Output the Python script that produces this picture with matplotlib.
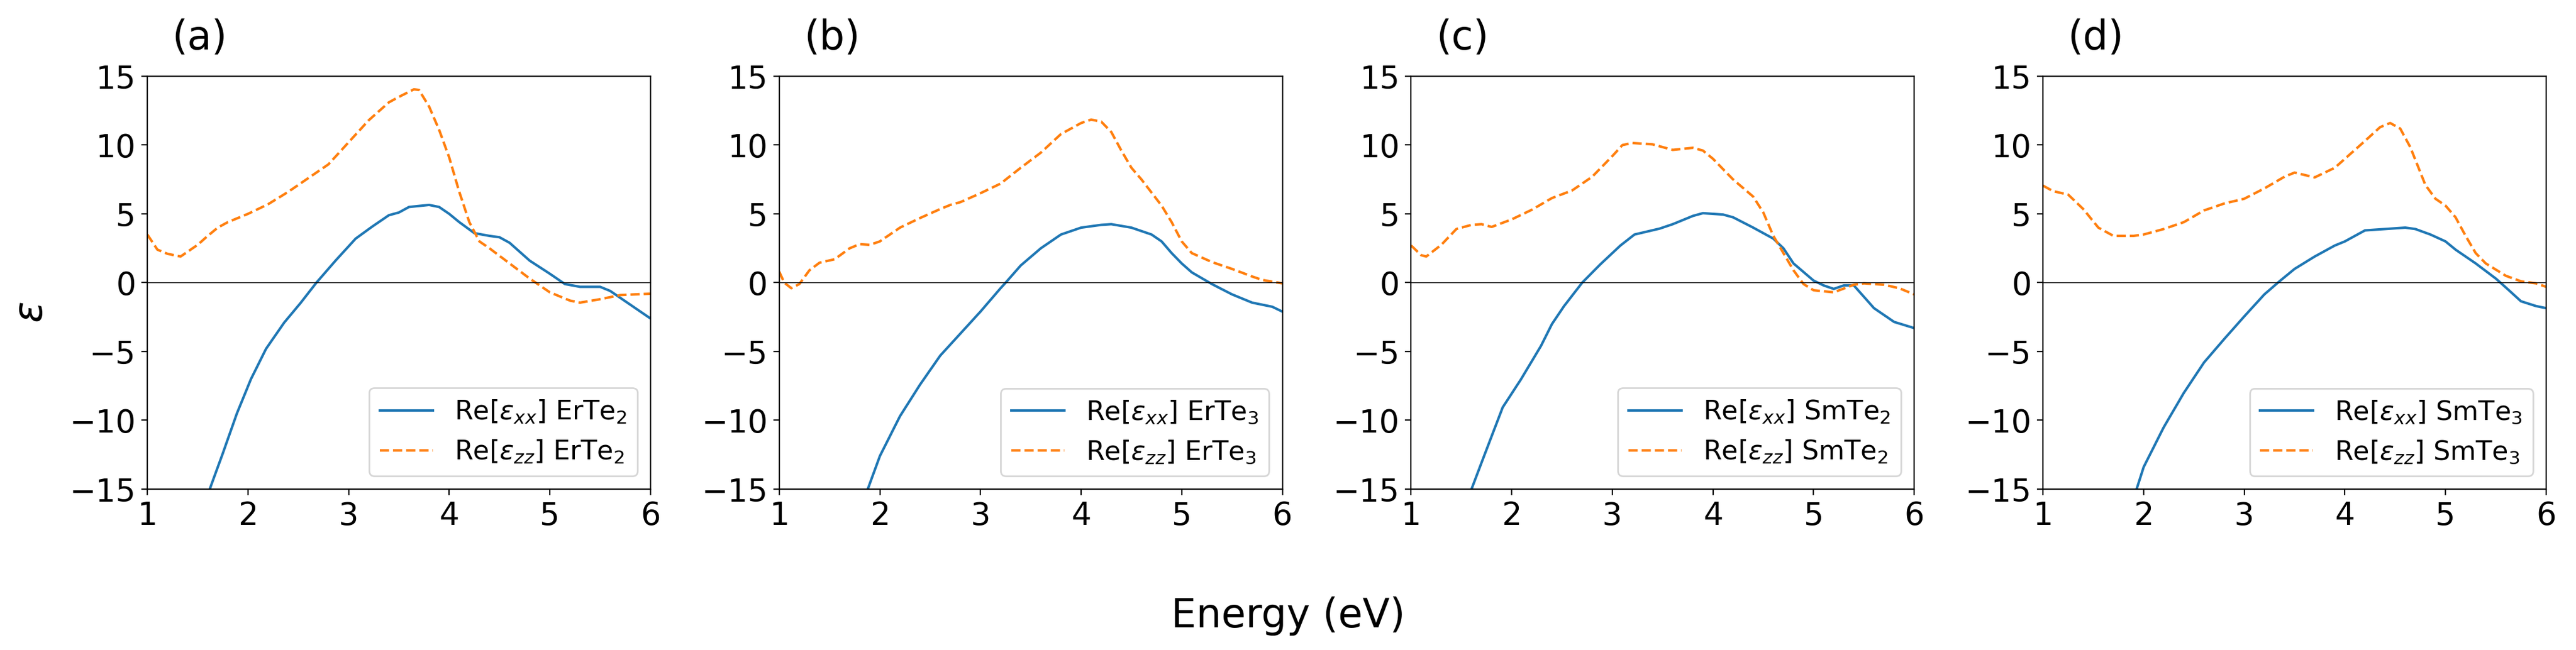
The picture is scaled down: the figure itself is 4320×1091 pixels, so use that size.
import matplotlib
matplotlib.use('Agg')
import matplotlib.pyplot as plt

# panel labels and legend compounds
panels = ['(a)', '(b)', '(c)', '(d)']
compounds = ['ErTe$_2$', 'ErTe$_3$', 'SmTe$_2$', 'SmTe$_3$']

# (a) ErTe2
a_xx_E = [1.62, 1.75, 1.89, 2.03, 2.18, 2.36, 2.52, 2.68, 2.87, 3.07, 3.23, 3.4, 3.5, 3.6, 3.8, 3.9, 4.0,
          4.1, 4.25, 4.4, 4.5, 4.6, 4.8, 5.0, 5.15, 5.3, 5.5, 5.6, 5.8, 6.0]
a_xx = [-15, -12.4, -9.5, -7.0, -4.8, -2.9, -1.5, 0.0, 1.6, 3.2, 4.05, 4.9, 5.1, 5.5, 5.65, 5.5, 5.0,
        4.4, 3.6, 3.4, 3.3, 2.9, 1.6, 0.65, -0.1, -0.3, -0.3, -0.6, -1.6, -2.6]
a_zz_E = [1.0, 1.1, 1.2, 1.33, 1.5, 1.6, 1.7, 1.8, 2.0, 2.2, 2.4, 2.6, 2.8, 3.0, 3.2, 3.4, 3.5,
          3.65, 3.7, 3.8, 3.9, 4.0, 4.1, 4.2, 4.3, 4.4, 4.6, 4.8, 5.0, 5.2, 5.3, 5.5, 5.7, 6.0]
a_zz = [3.5, 2.4, 2.1, 1.9, 2.75, 3.4, 4.0, 4.4, 5.0, 5.7, 6.6, 7.6, 8.6, 10.2, 11.8, 13.1, 13.5,
        14.05, 14.0, 12.8, 11.1, 9.1, 6.6, 4.4, 3.0, 2.5, 1.4, 0.3, -0.7, -1.3, -1.45, -1.2, -0.9, -0.8]

# (b) ErTe3
b_xx_E = [1.88, 2.0, 2.2, 2.4, 2.6, 2.8, 3.0, 3.2, 3.25, 3.4, 3.6, 3.8, 4.0, 4.2, 4.3, 4.5,
          4.7, 4.8, 4.9, 5.0, 5.1, 5.3, 5.5, 5.7, 5.9, 6.0]
b_xx = [-15, -12.6, -9.7, -7.4, -5.3, -3.7, -2.1, -0.4, 0.0, 1.25, 2.5, 3.5, 4.0, 4.2, 4.25, 4.0,
        3.5, 3.0, 2.15, 1.4, 0.75, -0.1, -0.85, -1.45, -1.75, -2.1]
b_zz_E = [1.0, 1.05, 1.12, 1.2, 1.3, 1.4, 1.55, 1.7, 1.8, 1.9, 2.0, 2.2, 2.4, 2.6, 2.7, 2.8,
          3.0, 3.2, 3.4, 3.6, 3.8, 4.0, 4.1, 4.2, 4.3, 4.4, 4.5, 4.6, 4.8, 4.9, 5.0, 5.1,
          5.3, 5.5, 5.7, 5.8, 6.0]
b_zz = [0.8, 0.0, -0.4, -0.1, 0.9, 1.45, 1.7, 2.5, 2.8, 2.75, 3.0, 4.0, 4.7, 5.35, 5.65, 5.85,
        6.5, 7.2, 8.35, 9.45, 10.8, 11.6, 11.85, 11.7, 10.95, 9.6, 8.35, 7.5, 5.6, 4.4, 3.0, 2.15,
        1.5, 1.0, 0.45, 0.2, -0.05]

# (c) SmTe2
c_xx_E = [1.6, 1.735, 1.91, 2.09, 2.29, 2.4, 2.52, 2.7, 2.88, 3.08, 3.22, 3.47, 3.6, 3.8, 3.9, 4.1, 4.2,
          4.4, 4.6, 4.7, 4.8, 5.0, 5.1, 5.2, 5.3, 5.4, 5.6, 5.8, 6.0]
c_xx = [-15, -12.4, -9.06, -7.04, -4.6, -3.0, -1.7, 0.0, 1.33, 2.7, 3.5, 3.93, 4.25, 4.85, 5.05, 4.95, 4.75,
        4.0, 3.2, 2.5, 1.4, 0.15, -0.2, -0.45, -0.2, -0.2, -1.85, -2.85, -3.3]
c_zz_E = [1.0, 1.1, 1.15, 1.3, 1.45, 1.6, 1.7, 1.8, 2.0, 2.2, 2.4, 2.6, 2.8, 3.0, 3.1, 3.2,
          3.4, 3.6, 3.8, 3.9, 4.0, 4.2, 4.4, 4.5, 4.6, 4.7, 4.8, 4.9, 5.0, 5.2, 5.4, 5.5,
          5.7, 5.85, 6.0]
c_zz = [2.7, 2.0, 1.9, 2.75, 3.9, 4.2, 4.25, 4.05, 4.6, 5.3, 6.15, 6.7, 7.7, 9.2, 10.0, 10.15,
        10.05, 9.65, 9.8, 9.6, 9.0, 7.5, 6.25, 5.1, 3.4, 2.15, 0.9, -0.1, -0.55, -0.7, -0.15, -0.05,
        -0.15, -0.4, -0.85]

# (d) SmTe3
d_xx_E = [1.93, 2.0, 2.2, 2.4, 2.6, 2.8, 3.0, 3.2, 3.35, 3.5, 3.7, 3.9, 4.0, 4.2, 4.4, 4.6,
          4.7, 4.85, 5.0, 5.1, 5.3, 5.5, 5.6, 5.75, 5.9, 6.0]
d_xx = [-15, -13.4, -10.5, -8.0, -5.8, -4.1, -2.45, -0.85, 0.1, 1.0, 1.9, 2.7, 3.0, 3.8, 3.9, 4.0,
        3.9, 3.5, 3.0, 2.4, 1.4, 0.3, -0.35, -1.35, -1.7, -1.85]
d_zz_E = [1.0, 1.1, 1.25, 1.4, 1.55, 1.7, 1.9, 2.0, 2.2, 2.4, 2.6, 2.8, 3.0, 3.2, 3.4, 3.5,
          3.7, 3.9, 4.0, 4.2, 4.35, 4.45, 4.55, 4.65, 4.8, 4.9, 5.0, 5.1, 5.2, 5.3, 5.4, 5.6,
          5.75, 5.9, 6.0]
d_zz = [7.05, 6.65, 6.4, 5.35, 4.0, 3.4, 3.4, 3.5, 3.9, 4.4, 5.25, 5.75, 6.1, 6.85, 7.7, 8.0,
        7.65, 8.35, 9.0, 10.3, 11.3, 11.6, 11.2, 9.85, 7.1, 6.1, 5.6, 4.75, 3.4, 2.15, 1.4, 0.5,
        0.1, -0.05, -0.3]

data = [(a_xx_E, a_xx, a_zz_E, a_zz),
        (b_xx_E, b_xx, b_zz_E, b_zz),
        (c_xx_E, c_xx, c_zz_E, c_zz),
        (d_xx_E, d_xx, d_zz_E, d_zz)]

fig, axes = plt.subplots(1, 4, figsize=(21.6, 5.455), dpi=200)
plt.subplots_adjust(left=0.0572, right=0.9884, top=0.8827, bottom=0.2475, wspace=0.256)

for ax, lab, comp, (ex, xx, ez, zz) in zip(axes, panels, compounds, data):
	ax.plot(ex, xx, '-', color='tab:blue', lw=1.5, label=r'Re[$\varepsilon_{xx}$] ' + comp)
	ax.plot(ez, zz, '--', color='tab:orange', lw=1.5, label=r'Re[$\varepsilon_{zz}$] ' + comp)
	ax.axhline(0, color='k', lw=0.5)
	ax.set_xlim(1, 6)
	ax.set_ylim(-15, 15)
	ax.set_xticks([1, 2, 3, 4, 5, 6])
	ax.set_yticks([-15, -10, -5, 0, 5, 10, 15])
	ax.tick_params(labelsize=19)
	ax.legend(loc='lower right', fontsize=16)
	ax.text(0.049, 1.066, lab, transform=ax.transAxes, fontsize=24, va='baseline')

fig.text(0.5, 0.035, 'Energy (eV)', ha='center', va='baseline', fontsize=24)
fig.text(0.012, 0.52, r'$\varepsilon$', rotation=90, ha='center', va='center', fontsize=24)

plt.savefig('out.png', dpi=200)
